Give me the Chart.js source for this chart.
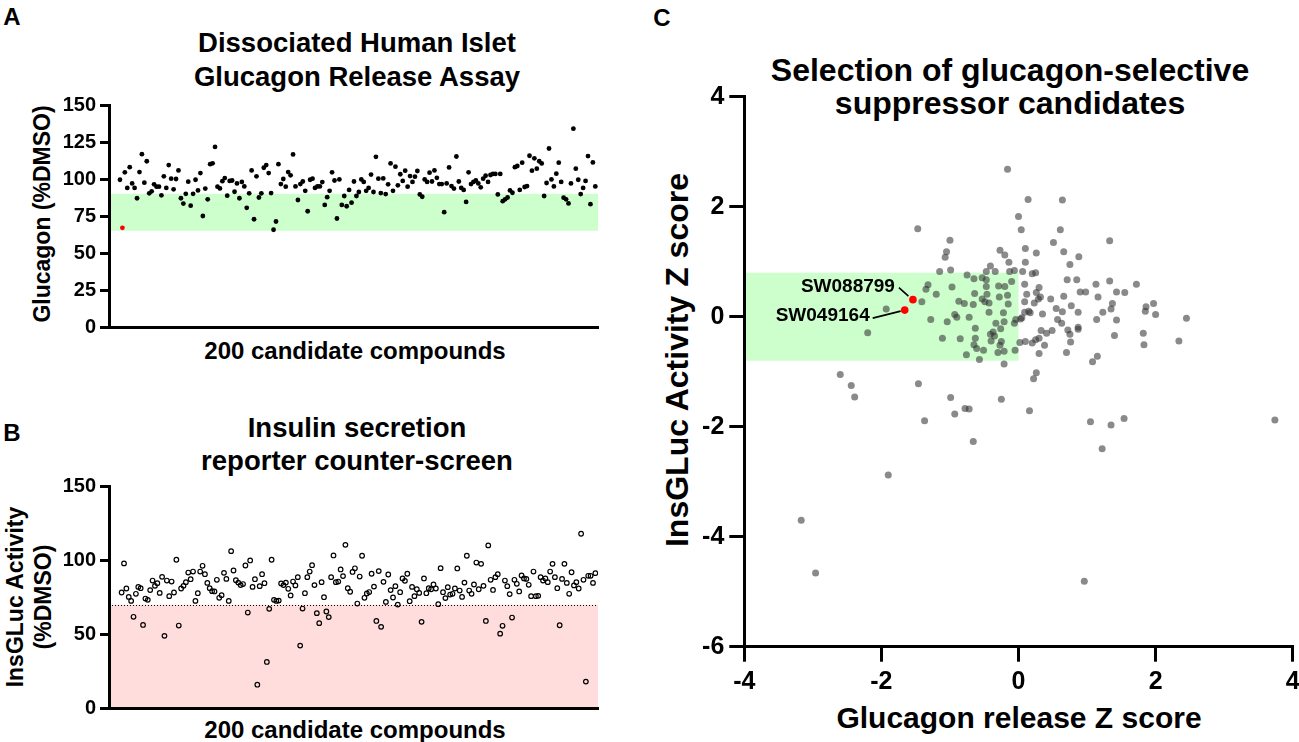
<!DOCTYPE html>
<html>
<head>
<meta charset="utf-8">
<title>Glucagon-selective suppressor screen</title>
<script src="https://cdn.jsdelivr.net/npm/chart.js@4.4.1/dist/chart.umd.min.js"></script>
<style>
  html, body { margin: 0; padding: 0; background: #fff; }
  body {
    width: 1299px; height: 742px; position: relative; overflow: hidden;
    font-family: "Liberation Sans", Arial, sans-serif; font-weight: bold; color: #000;
  }
  canvas { position: absolute; }
  .t { position: absolute; line-height: 1; white-space: nowrap; transform: translate(-50%, -50%); }
  .v { transform: translate(-50%, -50%) rotate(-90deg); }
</style>
</head>
<body>

<!-- panel A -->
<div class="t" style="left:12px;top:17px;font-size:24px">A</div>
<div class="t" style="left:357px;top:43px;font-size:27.5px">Dissociated Human Islet</div>
<div class="t" style="left:357px;top:77px;font-size:27.5px">Glucagon Release Assay</div>
<div class="t v" style="left:42px;top:214px;font-size:23px">Glucagon (%DMSO)</div>
<div class="t" style="left:355px;top:351px;font-size:24px">200 candidate compounds</div>
<canvas id="chartA" width="620" height="370" style="left:0;top:0"></canvas>

<!-- panel B -->
<div class="t" style="left:12px;top:433px;font-size:24px">B</div>
<div class="t" style="left:357px;top:428px;font-size:27.5px">Insulin secretion</div>
<div class="t" style="left:357px;top:461px;font-size:27.5px">reporter counter-screen</div>
<div class="t v" style="left:15px;top:597px;font-size:23px">InsGLuc Activity</div>
<div class="t v" style="left:43px;top:597px;font-size:23px">(%DMSO)</div>
<div class="t" style="left:355px;top:730px;font-size:24px">200 candidate compounds</div>
<canvas id="chartB" width="620" height="372" style="left:0;top:370px"></canvas>

<!-- panel C -->
<div class="t" style="left:662px;top:18px;font-size:24px">C</div>
<div class="t" style="left:1010px;top:70px;font-size:32px">Selection of glucagon-selective</div>
<div class="t" style="left:1010px;top:103px;font-size:32px">suppressor candidates</div>
<div class="t v" style="left:677px;top:360px;font-size:32px">InsGLuc Activity Z score</div>
<div class="t" style="left:1019px;top:718px;font-size:30px">Glucagon release Z score</div>
<canvas id="chartC" width="690" height="742" style="left:640px;top:0"></canvas>

<script>
// A: glucagon release, % of DMSO, in plate order (index 1 is the red hit)
const glucagonPct = [
  99.5, 67, 104.5, 94, 108, 97, 94, 87, 104.7, 116.8, 97.5, 112, 90.3, 91.7, 96.4, 94.8, 94.8, 89, 101.8, 94,
  109.4, 100.2, 93, 100, 105.8, 87, 83.4, 90, 98.2, 82, 90, 99.5, 92.3, 104, 75, 93.5, 86.3, 110, 110.6, 121.7,
  94.8, 93.6, 98.5, 100.6, 88.7, 98.7, 99, 91.4, 97, 87, 98, 95, 80.5, 90.3, 105.8, 72.8, 101.8, 87.5, 90.3, 107.6,
  109.4, 104, 90.5, 65.7, 71.3, 110, 96.6, 100, 94.8, 104.7, 102.5, 116.6, 95, 85.8, 96.6, 98.3, 92, 78.2, 99.5, 100.2,
  94, 95, 95, 97.9, 82.5, 87.7, 92, 104.5, 99, 73.3, 99.7, 82.5, 88.5, 81.6, 92.6, 84, 98.3, 88.5, 91.2,
  99.7, 98, 92, 94, 103, 91.2, 115, 100.2, 90.5, 100.4, 89.8, 96.4, 110.5, 92, 108.3, 95.7, 103.2, 98.7, 105.6, 94.8,
  102, 98, 101.6, 105.4, 89.6, 88, 99.7, 98, 104.3, 98.3, 105.8, 100.8, 96.6, 96.6, 77.6, 97, 107.8, 95.2, 93.5, 115.2,
  98.3, 94, 92.6, 84.5, 104.5, 96.6, 98, 99, 97, 94.4, 100.2, 102.2, 98, 102.7, 103.4, 103.4, 89.6, 103.4, 85, 86.3,
  87.5, 92.3, 90.7, 108, 108.8, 92.6, 111, 94.6, 95.2, 115.7, 105.6, 114, 107, 112, 110.5, 88.5, 97.3, 120.6, 99.7, 95,
  103.6, 111, 98, 87.4, 86.3, 83.5, 97, 134, 107, 99.5, 89.8, 94, 98.7, 115.5, 83, 111.2, 95
];
const glucagonHitIndex = 1;
const glucagonBand = [65, 90];

// B: InsGLuc reporter activity, % of DMSO
const insPct = [
  78.3, 98, 81, 75.3, 72.6, 61.8, 77.4, 82.1, 81.2, 56.3, 74.2, 73.3, 79.9, 86.4, 82.8, 84.6, 78, 88.9, 48.9, 86.4,
  75.8, 85.7, 78.3, 100.5, 55.9, 81, 82.8, 85.3, 91.8, 87.3, 92.5, 72.6, 77.8, 92.5, 96.4, 90.7, 84.8, 81.2, 79.2, 79,
  86.9, 74.7, 76.5, 91.6, 87.5, 72.6, 106.3, 93.2, 86.6, 85, 83.3, 84, 96.6, 64.7, 100, 82.1, 87.3, 15.8, 82.6, 90.7,
  84.6, 31.2, 67.2, 100.5, 73.3, 72.6, 72.8, 84.4, 83.3, 85, 80.8, 76.3, 85.7, 83.1, 88.7, 42.3, 67.4, 77.8, 88.7, 92.5,
  96.8, 83.3, 64.3, 57.5, 85.3, 75.1, 65.4, 61.6, 88.7, 103.4, 85.3, 85.7, 93.9, 89.4, 110.6, 81.2, 78.8, 92.2, 94.7, 70.8,
  89.1, 103.2, 74.7, 77.6, 78.6, 91, 82.3, 59, 92.8, 55, 85.5, 71.9, 90.5, 79.9, 74.9, 82.6, 70.1, 78.5, 87.8, 86.2,
  91, 72.4, 82.1, 75.8, 80.5, 78, 58.4, 87.8, 77.8, 81.2, 80.5, 83.7, 81, 70.4, 94.8, 78.5, 74.5, 81.9, 76.9, 77.4,
  81, 94.6, 79.6, 75.3, 85, 103.2, 79.6, 77.4, 83.7, 98.6, 80.5, 97.7, 82.8, 59, 110.2, 86.9, 80, 88.7, 90.7, 50.4,
  55.7, 86.4, 82.6, 77.2, 61.3, 86.9, 84.2, 79, 89.8, 87.8, 87.5, 83.5, 75.8, 92.5, 75.8, 76, 88.7, 86.4, 87.8, 85.3,
  92.5, 97.7, 88.7, 81.2, 56.1, 87.5, 97.7, 84.8, 77.4, 92, 83.1, 85.3, 81, 118.1, 86.9, 17.9, 89.6, 89.6, 84.8, 91.4
];
const insCutoff = 70;

// C: Z scores for every compound (x = glucagon release, y = InsGLuc activity)
const glucagonZ = [
  -0.16, 0.14, 0.64, -1.47, 0.0, 0.04, 0.61, 1.33, 0.51, -1.0, -1.05, -1.07, 0.10, -0.27, -0.2, 0.26, 0.66, 0.88, -0.14, 0.1,
  0.75, -0.41, -0.99, -1.15, -0.34, -0.13, -0.06, 0.06, 0.2, 0.25, -0.47, -0.75, -0.65, -0.53, -0.47, -0.29, -0.2, -0.1, 0.09, 0.3,
  -1.32, -1.35, -0.97, -1.2, -1.41, -0.47, -0.64, -0.46, -0.28, -0.16, 0.12, 0.26, 0.32, 0.47, 0.66, 0.71, 0.85, 1.13, 1.33, 1.72,
  0.9, 0.98, 1.16, 1.43, 1.55, -0.87, -0.79, -0.66, -0.53, -0.49, -0.43, -0.15, 0.09, 0.23, 0.29, 0.77, 0.55, 0.64, 0.87, 1.37,
  1.35, 1.23, 1.86, 1.85, 1.97, 2.0, -1.28, -1.04, -0.93, -0.9, -0.72, -0.63, -0.43, -0.22, -0.33, -0.21, -0.26, -0.06, -0.04, 0.03,
  0.05, 0.09, 0.15, 0.17, 0.35, 0.57, 0.63, 0.87, 1.14, 1.43, -1.11, -0.85, -0.63, -0.41, -0.37, -0.35, -0.4, -0.25, 0.02, 0.1,
  0.2, 0.25, 0.3, 0.33, 0.38, 0.41, 0.49, 0.72, 0.75, 0.76, 0.87, 1.4, 1.82, 1.83, -0.76, -0.65, -0.61, -0.57, -0.51, -0.3,
  -0.21, -0.27, -0.05, -0.21, 0.3, 0.7, 1.08, 1.15, 0.26, 0.22, -1.46, -0.99, -0.25, -0.78, -0.72, -0.93, 0.16, -1.37, 1.05, 1.35,
  1.54, 2.34, -1.93, -2.2, -2.6, -2.44, -2.39, -1.9, -3.17, -2.96, 0.96, 3.74, -0.66, 1.22, 2.45
];
const insZ = [
  2.68, 2.13, 2.12, 1.6, 1.82, 1.58, 1.58, 1.38, 1.35, 1.39, 1.18, 1.08, 1.24, 1.21, 1.12, 1.16, 1.18, 1.09, 0.99, 0.99,
  0.95, 0.92, 0.85, 0.82, 0.82, 0.82, 0.84, 0.82, 0.78, 0.8, 0.82, 0.76, 0.69, 0.71, 0.67, 0.56, 0.55, 0.64, 0.59, 0.53,
  0.58, 0.5, 0.54, 0.41, 0.27, 0.55, 0.42, 0.41, 0.36, 0.39, 0.41, 0.44, 0.36, 0.32, 0.37, 0.67, 0.67, 0.59, 0.65, 0.59,
  0.45, 0.45, 0.36, 0.45, 0.44, 0.28, 0.24, 0.22, 0.32, 0.27, 0.25, 0.23, 0.27, 0.25, 0.32, 0.2, 0.15, 0.09, 0.08, 0.24,
  0.14, 0.08, 0.18, 0.1, 0.24, 0.04, -0.05, -0.09, 0.04, -0.01, -0.01, -0.21, 0.08, 0.07, -0.12, -0.09, -0.22, -0.12, -0.05, -0.04,
  -0.02, 0.08, 0.1, 0.07, 0.05, -0.05, -0.12, -0.19, -0.05, -0.06, -0.39, -0.4, -0.39, -0.32, -0.28, -0.35, -0.44, -0.45, -0.47, -0.45,
  -0.48, -0.42, -0.39, -0.25, -0.52, -0.3, -0.25, -0.24, -0.32, -0.46, -0.23, -0.34, -0.3, -0.51, -0.69, -0.51, -0.58, -0.78, -0.61, -0.65,
  -0.63, -0.52, -0.61, -0.86, -0.67, -0.65, -0.82, -0.72, -1.02, -1.13, -1.22, -1.47, -1.5, -1.67, -1.68, -1.77, -1.71, -1.89, -1.91, -1.97,
  -1.85, -0.44, 0.14, -0.29, -1.05, -1.25, -1.46, -2.88, -3.7, -4.66, -4.81, -1.88, -2.27, -2.4, -0.03
];
const hitNames = ["SW088799", "SW049164"];
const hitGlucagonZ = [-1.54, -1.66];
const hitInsZ = [0.31, 0.12];
const selectBox = { xMin: -4, xMax: 0, yMin: -0.8, yMax: 0.8 };

const FONT = '"Liberation Sans", Arial, sans-serif';
const GREEN = "#ccffcc";
const PINK = "#ffdddd";

// fixed axis boxes so the plot areas land where the figure has them
function yAxis(min, max, step, width, opts) {
  return {
    type: "linear", min, max,
    afterFit: s => { s.width = width; },
    ticks: { stepSize: step, color: "#000", padding: opts.pad, font: { family: FONT, size: opts.size, weight: "bold" } },
    grid: { drawOnChartArea: false, drawTicks: true, tickLength: opts.tick, color: "#000", lineWidth: 3, tickWidth: 3 },
    border: { color: "#000", width: 3 }
  };
}

function indexAxis(min, max, height) {
  return {
    type: "linear", min, max,
    afterFit: s => { s.height = height; },
    ticks: { display: false },
    grid: { display: false },
    border: { color: "#000", width: 3 }
  };
}

const bandPlugin = (id, fn) => ({ id, beforeDraw(chart) { const c = chart.ctx; c.save(); fn(chart, c); c.restore(); } });

const base = {
  responsive: false, animation: false, events: [],
  plugins: { legend: { display: false }, tooltip: { enabled: false } }
};

// ---- panel A
const aPoints = glucagonPct.map((v, i) => ({ x: i + 1, y: v })).filter((p, i) => i !== glucagonHitIndex);
const aHit = [{ x: glucagonHitIndex + 1, y: glucagonPct[glucagonHitIndex] }];

new Chart(document.getElementById("chartA"), {
  type: "scatter",
  data: { datasets: [
    { data: aHit, pointRadius: 2.4, pointBackgroundColor: "#ff0000", pointBorderWidth: 0, order: 0 },
    { data: aPoints, pointRadius: 2.4, pointBackgroundColor: "#000", pointBorderWidth: 0, order: 1 }
  ] },
  options: Object.assign({}, base, {
    layout: { padding: { top: 105, right: 22, left: 0, bottom: 0 } },
    scales: {
      x: indexAxis(-3.5, glucagonPct.length + 1.1, 43),
      y: yAxis(0, 150, 25, 109, { size: 20, tick: 9, pad: 4 })
    }
  }),
  plugins: [bandPlugin("bandA", (ch, c) => {
    const a = ch.chartArea, y = ch.scales.y;
    const top = y.getPixelForValue(glucagonBand[1]), bot = y.getPixelForValue(glucagonBand[0]);
    c.fillStyle = GREEN;
    c.fillRect(a.left, top, a.right - a.left, bot - top);
  })]
});

// ---- panel B
new Chart(document.getElementById("chartB"), {
  type: "scatter",
  data: { datasets: [
    { data: insPct.map((v, i) => ({ x: i + 1, y: v })), pointRadius: 2.3, pointBackgroundColor: "rgba(0,0,0,0)",
      pointBorderColor: "#000", pointBorderWidth: 1.2 }
  ] },
  options: Object.assign({}, base, {
    layout: { padding: { top: 116.7, right: 22, left: 0, bottom: 0 } },
    scales: {
      x: indexAxis(-4.3, insPct.length + 1.1, 34),
      y: yAxis(0, 150, 50, 109, { size: 20, tick: 9, pad: 4 })
    }
  }),
  plugins: [bandPlugin("bandB", (ch, c) => {
    const a = ch.chartArea, y = ch.scales.y;
    const top = y.getPixelForValue(insCutoff);
    c.fillStyle = PINK;
    c.fillRect(a.left, top, a.right - a.left, a.bottom - top);
    c.strokeStyle = "#000";
    c.lineWidth = 1;
    c.setLineDash([1, 2]);
    c.beginPath();
    c.moveTo(a.left, Math.round(top) + 0.5);
    c.lineTo(a.right, Math.round(top) + 0.5);
    c.stroke();
  })]
});

// ---- panel C
const hitLabelStyle = [
  { dx: -18, dy: -13, line: [-14, -12, -4.5, -3.5] },
  { dx: -35, dy: 6, line: [-32, 8, -4, 1] }
];

new Chart(document.getElementById("chartC"), {
  type: "scatter",
  data: { datasets: [
    { data: hitGlucagonZ.map((x, i) => ({ x, y: hitInsZ[i] })), pointRadius: 3.8,
      pointBackgroundColor: "#ff0000", pointBorderWidth: 0, order: 0 },
    { data: glucagonZ.map((x, i) => ({ x, y: insZ[i] })), pointRadius: 3.5,
      pointBackgroundColor: "rgba(50,50,50,0.57)", pointBorderWidth: 0, order: 1 }
  ] },
  options: Object.assign({}, base, {
    layout: { padding: { top: 96.7, right: 37.3, left: 0, bottom: 0 } },
    scales: {
      x: {
        type: "linear", min: -4, max: 4,
        afterFit: s => { s.height = 95.3; },
        ticks: { stepSize: 2, color: "#000", padding: 5, font: { family: FONT, size: 25, weight: "bold" } },
        grid: { drawOnChartArea: false, tickLength: 15, color: "#000", lineWidth: 3, tickWidth: 3 },
        border: { color: "#000", width: 3 }
      },
      y: yAxis(-6, 4, 2, 104.3, { size: 25, tick: 15, pad: 5 })
    }
  }),
  plugins: [
    bandPlugin("boxC", (ch, c) => {
      const x = ch.scales.x, y = ch.scales.y;
      const l = x.getPixelForValue(selectBox.xMin), r = x.getPixelForValue(selectBox.xMax);
      const t = y.getPixelForValue(selectBox.yMax), b = y.getPixelForValue(selectBox.yMin);
      c.fillStyle = GREEN;
      c.fillRect(l, t, r - l, b - t);
    }),
    {
      id: "hitLabels",
      afterDatasetsDraw(ch) {
        const c = ch.ctx, x = ch.scales.x, y = ch.scales.y;
        c.save();
        c.font = "bold 19px " + FONT;
        c.fillStyle = "#000";
        c.strokeStyle = "#000";
        c.lineWidth = 1.6;
        c.textAlign = "right";
        c.textBaseline = "middle";
        hitNames.forEach((name, i) => {
          const px = x.getPixelForValue(hitGlucagonZ[i]), py = y.getPixelForValue(hitInsZ[i]);
          const s = hitLabelStyle[i];
          c.fillText(name, px + s.dx, py + s.dy);
          c.beginPath();
          c.moveTo(px + s.line[0], py + s.line[1]);
          c.lineTo(px + s.line[2], py + s.line[3]);
          c.stroke();
        });
        c.restore();
      }
    }
  ]
});
</script>
</body>
</html>
